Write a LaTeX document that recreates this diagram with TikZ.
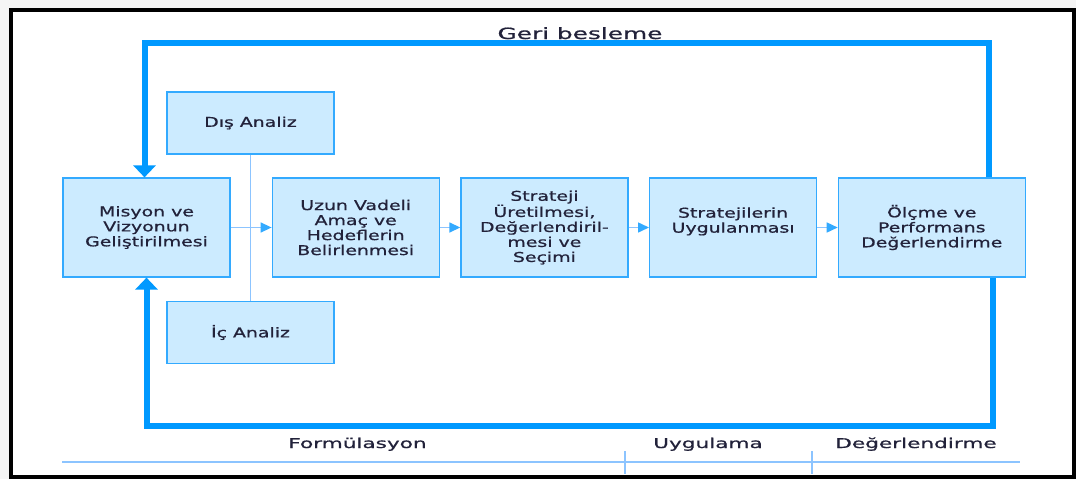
\documentclass[tikz,border=0pt]{standalone}
\usepackage{fontspec}
\setmainfont{DejaVu Sans}[FakeStretch=1.4,FakeBold=0.8]
\newfontfamily\widefont{DejaVu Sans}[FakeStretch=1.6,FakeBold=0.8]
\usepackage{xcolor}
\usetikzlibrary{positioning,arrows.meta}
\definecolor{boxfill}{HTML}{CCEBFF}
\definecolor{boxline}{HTML}{33AAFF}
\definecolor{fbblue}{HTML}{0099FF}
\definecolor{thinblue}{HTML}{8CC4FF}
\definecolor{textcol}{HTML}{22223A}

\begin{document}
\begin{tikzpicture}[x=1pt,y=-1pt,node distance=20.5pt,
		box/.style={draw=boxline,fill=boxfill,line width=1.2pt,minimum width=167pt,minimum height=99pt,
			inner sep=0pt,align=center,text=textcol,font=\fontsize{13.5}{15}\selectfont},
		fb/.style={draw=fbblue,line width=6pt,-{Triangle[width=22pt,length=12pt]}},
		flow/.style={draw=thinblue,line width=1.5pt,-{Triangle[width=10pt,length=11pt,color=boxline]}},
		thin/.style={draw=thinblue,line width=1.5pt},
		phase/.style={anchor=base,text=textcol,font=\widefont\fontsize{13.5}{15}\selectfont}]
			\useasboundingbox (0,0) rectangle (1076,479);
			\fill[gray!8] (0,0) rectangle (1076,479);
			\filldraw[fill=white,line width=4pt] (10.5,9.5) rectangle (1074,477);
	
			\node[box] (mis) at (146.5,227.5) {Misyon ve\\Vizyonun\\Geliştirilmesi};
			\node[box] (uzun) [right=41pt of mis] {Uzun Vadeli\\Amaç ve\\Hedeflerin\\Belirlenmesi};
			\node[box] (str) [right=of uzun] {Strateji\\Üretilmesi,\\Değerlendiril-\\mesi ve\\Seçimi};
			\node[box] (uyg) [right=of str] {Stratejilerin\\Uygulanması\\\mbox{}};
			\node[box,minimum width=187pt] (olc) [right=of uyg] {Ölçme ve\\Performans\\Değerlendirme};
			\node[box,minimum height=62pt] (dis) at (250.5,123) {Dış Analiz};
			\node[box,minimum height=62pt] (ic) at (250.5,332.5) {İç Analiz};
	
			\draw[thin] (dis) -- (ic);
			\draw[flow] (mis) -- (uzun);
			\draw[flow] (uzun) -- (str);
			\draw[flow] (str) -- (uyg);
			\draw[flow] (uyg) -- (olc);
	
			% geri besleme
			\draw[fb] ([xshift=57pt]olc.north) -- ++(0,-134) -| ([xshift=-2pt]mis.north);
			\draw[fb] ([xshift=61pt]olc.south) -- ++(0,148) -| (mis.south);
			\node[phase,font=\widefont\fontsize{15.5}{17}\selectfont] (geri) at (580,39) {Geri besleme};
	
			% asamalar
			\coordinate (ls) at (62,462);
			\coordinate (le) at (1020,462);
			\coordinate (t1) at (625,451);
			\coordinate (t2) at (812,451);
			\draw[thin] (ls) -- (le);
			\draw[thin] (t1) -- ++(0,23);
			\draw[thin] (t2) -- ++(0,23);
			\node[phase] (form) at (357.5,448) {Formülasyon};
			\node[phase] (uygl) at (708,448) {Uygulama};
			\node[phase] (deg) at (916,448) {Değerlendirme};
\end{tikzpicture}
\end{document}
